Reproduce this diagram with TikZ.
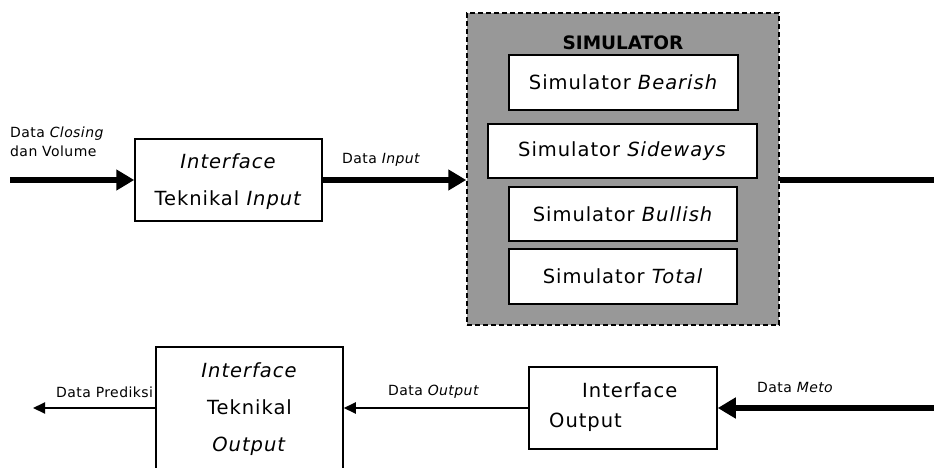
\documentclass[tikz,border=0pt]{standalone}
\usepackage{fontspec}
\setmainfont{DejaVu Sans}
\newfontfamily\boxfont{DejaVu Sans}[LetterSpace=5]
\newfontfamily\lblfont{DejaVu Sans}[LetterSpace=3]
\usetikzlibrary{arrows.meta}
\definecolor{simgray}{RGB}{152,152,152}
\tikzset{
  box/.style={draw=black, line width=1.5pt, fill=white, inner sep=0pt, align=center,
    font=\boxfont\fontsize{19.5}{37}\selectfont},
  lbl/.style={inner sep=0pt, anchor=west, align=left, font=\lblfont\fontsize{14}{19}\selectfont},
  thickarr/.style={line width=6pt, -{Triangle[length=18pt,width=20pt]}},
  thickline/.style={line width=6pt},
  thinarr/.style={line width=2pt, -{Triangle[length=12pt,width=11pt]}},
  simbox/.style={draw=black, line width=1.5pt, fill=simgray, dash pattern=on 5pt off 3pt, inner sep=0pt}
}
\begin{document}
\begin{tikzpicture}[x=1pt,y=-1pt]
\useasboundingbox (0,0) rectangle (934,468);
\clip (0,0) rectangle (934,468);
% simulator container
\node[simbox, minimum width=312pt, minimum height=312pt] (sim) at (623,169) {};
\node[font=\bfseries\fontsize{18.5}{20}\selectfont, inner sep=0pt] (simtitle) at (623,43) {SIMULATOR};
\node[box, minimum width=229pt, minimum height=55pt] (bear) at (623.5,82.5) {Simulator \textit{Bearish}};
\node[box, minimum width=269pt, minimum height=54pt] (side) at (622.5,151) {Simulator \textit{Sideways}};
\node[box, minimum width=228pt, minimum height=54pt] (bull) at (623,214) {Simulator \textit{Bullish}};
\node[box, minimum width=228pt, minimum height=55pt] (total) at (623,276.5) {Simulator \textit{Total}};
% input interface
\node[box, minimum width=187pt, minimum height=82pt, text depth=0pt] (tin) at (228.5,180) {\textit{Interface}\\Teknikal \textit{Input}};
% output interface
\node[box, minimum width=188pt, minimum height=82pt] (iout) at (623,408) {};
\node[inner sep=0pt, anchor=west, align=left, font=\boxfont\fontsize{19.5}{30}\selectfont] (iouttext) at (549,407) {\hspace*{33pt}Interface\\Output};
% output teknikal
\node[box, minimum width=187pt, minimum height=124pt] (tout) at (249.5,409) {\textit{Interface}\\Teknikal\\\textit{Output}};
% free ends
\coordinate (inL) at (10,180);
\coordinate (simR) at (934,180);
\coordinate (metaR) at (934,408);
\coordinate (predL) at (33,408);
% connectors
\draw[thickarr] (inL) -- (tin.west);
\draw[thickarr] (tin.east) -- (sim.west |- tin.east);
\draw[thickline] (sim.east |- simR) -- (simR);
\draw[thickarr] (metaR) -- (iout.east);
\draw[thinarr] (iout.west) -- (tout.east |- iout.west);
\draw[thinarr] (tout.west |- predL) -- (predL);
% labels
\node[lbl] (l1) at (10,142) {Data \textit{Closing}\\dan Volume};
\node[lbl] (l2) at (342,160) {Data \textit{Input}};
\node[lbl] (l3) at (56,392) {Data Prediksi};
\node[lbl] (l4) at (388,392) {Data \textit{Output}};
\node[lbl] (l5) at (757,387) {Data \textit{Meto}};
\end{tikzpicture}
\end{document}
